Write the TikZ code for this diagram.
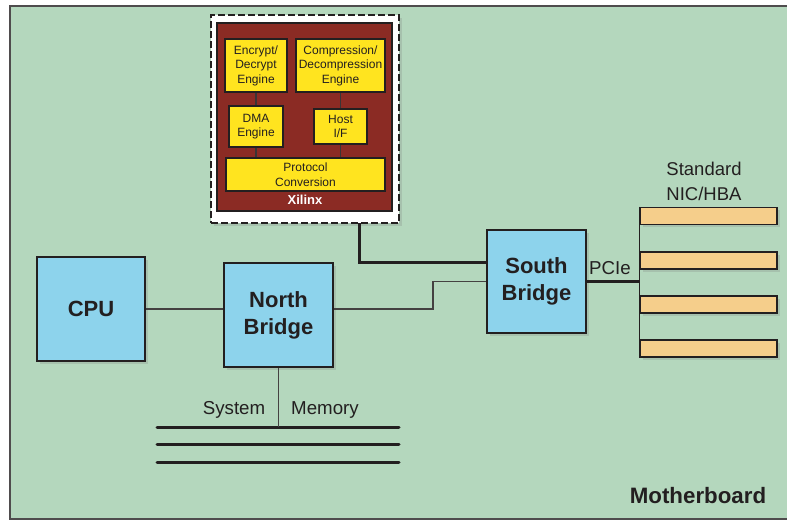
\documentclass[tikz,border=0pt]{standalone}
\usepackage{fontspec}
\setmainfont{Liberation Sans}
\usetikzlibrary{shadows}
\definecolor{board}{HTML}{B4D7BD}
\definecolor{chip}{HTML}{8DD3EC}
\definecolor{fpga}{HTML}{8B2B24}
\definecolor{blk}{HTML}{FFE41F}
\definecolor{slotc}{HTML}{F5CE8B}
\definecolor{ink}{HTML}{231F20}
\tikzset{
  x=1pt, y=-1pt,
  chipbox/.style={draw=ink, line width=1.5pt, fill=chip, align=center, inner sep=0pt,
    font=\fontsize{22}{27}\selectfont\bfseries, text=ink,
    drop shadow={opacity=0.25, shadow xshift=3pt, shadow yshift=-3pt}},
  engbox/.style={draw=ink, line width=1.4pt, fill=blk, align=center, inner sep=0pt,
    font=\fontsize{12}{14.5}\selectfont, text=ink},
  slotbox/.style={draw=ink, line width=1.5pt, fill=slotc, minimum width=137pt, minimum height=17pt, inner sep=0pt,
    drop shadow={opacity=0.25, shadow xshift=3pt, shadow yshift=-3pt}},
  thinwire/.style={draw=ink!85, line width=1.2pt},
  innerwire/.style={draw=ink!90, line width=1.4pt},
  thickwire/.style={draw=ink, line width=3pt},
  lbl/.style={font=\fontsize{18.7}{22}\selectfont, text=ink, inner sep=0pt, align=center},
}
\begin{document}
\begin{tikzpicture}
\useasboundingbox (0,0) rectangle (787,521);
\fill[white] (0,0) rectangle (787,521);
% motherboard
\filldraw[fill=board, draw=ink!80, line width=1.5pt] (10,6) rectangle (792,519);
% Xilinx board
\node[draw=ink, line width=2pt, dash pattern=on 7pt off 3pt, fill=white, minimum width=188pt, minimum height=208pt, inner sep=0pt,
  drop shadow={opacity=0.25, shadow xshift=3pt, shadow yshift=-3pt}] (xil) at (305,119) {};
\node[draw=ink, line width=1.5pt, fill=fpga, minimum width=175pt, minimum height=188pt, inner sep=0pt] (fpga) at (304.5,117) {};
\node[font=\fontsize{13}{15}\selectfont\bfseries, text=white, inner sep=0pt] (xlbl) at (305,200) {Xilinx};
\node[engbox, minimum width=62pt, minimum height=53pt] (enc) at (256,65.5) {Encrypt/\\Decrypt\\Engine};
\node[engbox, minimum width=89pt, minimum height=53pt] (cmp) at (340.5,65.5) {Compression/\\Decompression\\Engine};
\node[engbox, minimum width=54pt, minimum height=41pt] (dma) at (256,126.5) {DMA\\Engine};
\node[engbox, minimum width=53pt, minimum height=35pt] (host) at (340.5,126.5) {Host\\I/F};
\node[engbox, minimum width=159pt, minimum height=33pt] (prot) at (305.5,174.5) {Protocol\\Conversion};
\draw[innerwire] (enc.south) -- (dma.north);
\draw[innerwire] (cmp.south) -- (host.north);
\draw[innerwire] (dma.south) -- (dma.south |- prot.north);
\draw[innerwire] (host.south) -- (host.south |- prot.north);
% chips
\node[chipbox, minimum width=108pt, minimum height=104pt] (cpu) at (91,309) {CPU};
\node[chipbox, minimum width=109pt, minimum height=104pt] (nb) at (278.5,315) {\raisebox{-2pt}{North}\\\raisebox{-2pt}{Bridge}};
\node[chipbox, minimum width=99pt, minimum height=103pt] (sb) at (536.5,281.5) {South\\Bridge};
% slots
\node[slotbox] (s1) at (708.5,216) {};
\node[slotbox] (s2) at (708.5,260.5) {};
\node[slotbox] (s3) at (708.5,304.5) {};
\node[slotbox] (s4) at (708.5,348.5) {};
% wires
\draw[thinwire] (cpu.east |- 0,309) -- (nb.west |- 0,309);
\draw[thinwire] (nb.east |- 0,309) -- (433,309) |- (sb.west);
\coordinate (xb) at (359,223);
\coordinate (sbin) at (487,263);
\draw[thickwire] (xb) |- (sbin);
\draw[thickwire] (sb.east) -- (s1.west |- sb.east);
\draw[line width=1.5pt, draw=ink] (s1.north west) -- (s4.south west);
\coordinate (m1l) at (157,427); \coordinate (m1r) at (399,427);
\coordinate (m2l) at (157,444.5); \coordinate (m2r) at (399,444.5);
\coordinate (m3l) at (157,462); \coordinate (m3r) at (399,462);
\draw[thickwire, line cap=round] (m1l) -- (m1r);
\draw[thickwire, line cap=round] (m2l) -- (m2r);
\draw[thickwire, line cap=round] (m3l) -- (m3r);
\draw[thinwire] (nb.south) -- (nb.south |- m1l);
% labels
\node[lbl] (sys) at (234,410) {System};
\node[lbl] (mem) at (325,410) {Memory};
\node[lbl] (pcie) at (610,268) {PCIe};
\node[lbl, font=\fontsize{18.5}{25}\selectfont] (nic) at (704,181) {Standard\\NIC/HBA};
\node[font=\fontsize{22.3}{26}\selectfont\bfseries, text=ink, inner sep=0pt] (mb) at (698,496) {Motherboard};
\end{tikzpicture}
\end{document}
